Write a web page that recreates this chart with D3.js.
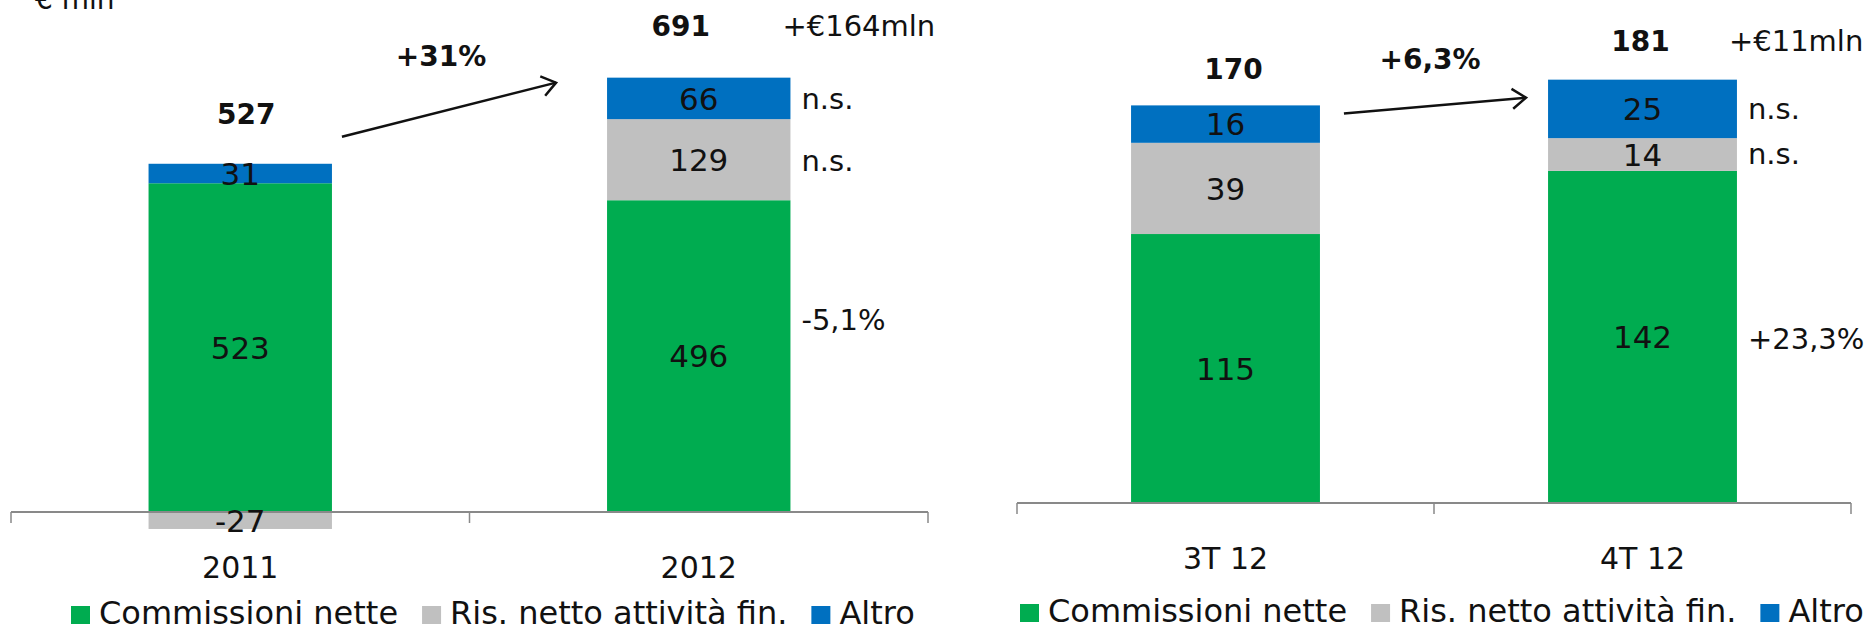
<!DOCTYPE html>
<html>
<head>
<meta charset="utf-8">
<script src="https://cdn.jsdelivr.net/npm/d3@7"></script>
<style>
  body { margin: 0; background: #fff; }
  svg { display: block; font-family: "DejaVu Sans", sans-serif; }
</style>
</head>
<body>
<svg id="chart" width="1876" height="632"></svg>
<script>
// data
const seriesNames = ['Commissioni nette', 'Ris. netto attività fin.', 'Altro'];
const seriesColors = ['#00ac50', '#c0c0c0', '#0070c0'];

const yearCats = ['2011', '2012'];
const yearCommissioni = [523, 496];
const yearRisultato = [-27, 129];
const yearAltro = [31, 66];
const yearTotals = ['527', '691'];

const quarterCats = ['3T 12', '4T 12'];
const quarterCommissioni = [115, 142];
const quarterRisultato = [39, 14];
const quarterAltro = [16, 25];
const quarterTotals = ['170', '181'];

const yearNotes = ['n.s.', 'n.s.', '-5,1%'];      // altro, risultato, commissioni
const quarterNotes = ['n.s.', 'n.s.', '+23,3%'];

const svg = d3.select('#chart');

// stacks positive up, negative down
const stackIt = (cats, series) => {
    return cats.map((c, i) => {
        let pos = 0, neg = 0;
        return series.map((s, k) => {
            const v = s[i];
            let y0, y1;
            if (v >= 0) { y0 = pos; y1 = pos + v; pos = y1 }
            else { y0 = neg; y1 = neg + v; neg = y1 }
            return { cat: c, key: k, value: v, y0: y0, y1: y1 };
        });
    });
};

const drawPanel = (opts) => {
    const g = svg.append('g');
    const x = d3.scaleBand().domain(opts.cats).range(opts.xRange)
        .paddingInner(opts.padIn).paddingOuter(opts.padIn / 2);
    const y = d3.scaleLinear().domain(opts.yDomain).range(opts.yRange);

    const stacks = stackIt(opts.cats, opts.series);

    stacks.forEach(stack => {
        g.selectAll(null)
            .data(stack)
            .enter()
            .append('rect')
            .attr('x', d => x(d.cat))
            .attr('width', x.bandwidth())
            .attr('y', d => y(Math.max(d.y0, d.y1)))
            .attr('height', d => Math.abs(y(d.y0) - y(d.y1)))
            .attr('fill', d => seriesColors[d.key]);
    });

    // axis line + ticks
    const y0 = y(0);
    g.append('line')
        .attr('x1', opts.xRange[0]).attr('x2', opts.xRange[1])
        .attr('y1', y0).attr('y2', y0)
        .attr('stroke', '#898989').attr('stroke-width', 2);
    const tickXs = [opts.xRange[0], (x(opts.cats[0]) + x(opts.cats[1]) + x.bandwidth()) / 2, opts.xRange[1]];
    g.selectAll(null)
        .data(tickXs)
        .enter()
        .append('line')
        .attr('x1', d => d).attr('x2', d => d)
        .attr('y1', y0).attr('y2', y0 + 11)
        .attr('stroke', '#898989').attr('stroke-width', 1.5);

    // segment labels
    stacks.forEach(stack => {
        g.selectAll(null)
            .data(stack)
            .enter()
            .append('text')
            .attr('x', d => x(d.cat) + x.bandwidth() / 2)
            .attr('y', d => y((d.y0 + d.y1) / 2))
            .attr('dy', '0.36em')
            .attr('text-anchor', 'middle')
            .attr('font-size', 31)
            .attr('fill', '#111')
            .text(d => d.value);
    });

    // category labels
    g.selectAll(null)
        .data(opts.cats)
        .enter()
        .append('text')
        .attr('x', d => x(d) + x.bandwidth() / 2)
        .attr('y', y0 + opts.catOffset)
        .attr('text-anchor', 'middle')
        .attr('font-size', 30)
        .attr('fill', '#111')
        .text(d => d);

    // totals
    stacks.forEach((stack, i) => {
        const top = d3.max(stack, d => Math.max(d.y0, d.y1));
        g.append('text')
            .attr('x', x(opts.cats[i]) + x.bandwidth() / 2 + opts.totalDx[i])
            .attr('y', y(top) - opts.totalGap[i])
            .attr('text-anchor', 'middle')
            .attr('font-size', 28)
            .attr('font-weight', 'bold')
            .attr('fill', '#111')
            .text(opts.totals[i]);
    });

    // right-hand notes next to last bar
    const last = stacks[1];
    const noteX = x(opts.cats[1]) + x.bandwidth() + 11;
    const noteOrder = [2, 1, 0];
    noteOrder.forEach((k, j) => {
        const seg = last[k];
        const mid = y((seg.y0 + seg.y1) / 2);
        g.append('text')
            .attr('x', noteX)
            .attr('y', mid + opts.noteDy[j])
            .attr('font-size', 29)
            .attr('fill', '#111')
            .text(opts.notes[j]);
    });

    // delta in mln
    const lastTop = d3.max(last, d => Math.max(d.y0, d.y1));
    g.append('text')
        .attr('x', x(opts.cats[1]) + x.bandwidth() - 8)
        .attr('y', y(lastTop) - opts.totalGap[1])
        .attr('font-size', 29)
        .attr('fill', '#111')
        .text(opts.delta);

    // arrow
    const firstTop = d3.max(stacks[0], d => Math.max(d.y0, d.y1));
    const ax0 = x(opts.cats[0]) + x.bandwidth() + opts.arrow[0];
    const ay0 = y(firstTop) + opts.arrow[1];
    const ax1 = x(opts.cats[1]) + opts.arrow[2];
    const ay1 = y(lastTop) + opts.arrow[3];
    g.append('line')
        .attr('x1', ax0).attr('y1', ay0).attr('x2', ax1).attr('y2', ay1)
        .attr('stroke', '#111').attr('stroke-width', 2.5);
    const ang = Math.atan2(ay1 - ay0, ax1 - ax0);
    const head = 17, spread = Math.PI / 5;
    g.append('path')
        .attr('d', d3.line()([
            [ax1 - head * Math.cos(ang - spread), ay1 - head * Math.sin(ang - spread)],
            [ax1, ay1],
            [ax1 - head * Math.cos(ang + spread), ay1 - head * Math.sin(ang + spread)]
        ]))
        .attr('fill', 'none').attr('stroke', '#111').attr('stroke-width', 2.5);

    g.append('text')
        .attr('x', (ax0 + ax1) / 2 + opts.pctDx)
        .attr('y', Math.min(ay0, ay1) + opts.pctDy)
        .attr('text-anchor', 'middle')
        .attr('font-size', 28)
        .attr('font-weight', 'bold')
        .attr('fill', '#111')
        .text(opts.pct);

    // legend
    let lx = opts.legendX;
    seriesNames.forEach((name, k) => {
        g.append('rect')
            .attr('x', lx).attr('y', opts.legendY - 18)
            .attr('width', 19).attr('height', 18)
            .attr('fill', seriesColors[k]);
        const t = g.append('text')
            .attr('x', lx + 28).attr('y', opts.legendY)
            .attr('font-size', 32)
            .attr('fill', '#111')
            .text(name);
        lx += 28 + t.node().getComputedTextLength() + 24;
    });
};

drawPanel({
    cats: yearCats,
    series: [yearCommissioni, yearRisultato, yearAltro],
    totals: yearTotals,
    notes: yearNotes,
    delta: '+€164mln',
    pct: '+31%',
    xRange: [11, 928],
    padIn: 0.6,
    yDomain: [0, 700],
    yRange: [512, 72],
    catOffset: 66,
    totalDx: [6, -18],
    totalGap: [40, 42],
    noteDy: [11, 11, -26],
    arrow: [10, -27, -51, 5],
    pctDx: -8, pctDy: -17,
    legendX: 71, legendY: 624
});

drawPanel({
    cats: quarterCats,
    series: [quarterCommissioni, quarterRisultato, quarterAltro],
    totals: quarterTotals,
    notes: quarterNotes,
    delta: '+€11mln',
    pct: '+6,3%',
    xRange: [1017, 1851],
    padIn: 0.547,
    yDomain: [0, 180],
    yRange: [503, 82],
    catOffset: 66,
    totalDx: [8, -2],
    totalGap: [26, 29],
    noteDy: [10, 9, 12],
    arrow: [24, 8, -22, 18],
    pctDx: -5, pctDy: -29,
    legendX: 1020, legendY: 622
});

// unit label (partly cut at top, as in the source slide)
svg.append('text')
    .attr('x', 35).attr('y', 9)
    .attr('font-size', 28)
    .attr('fill', '#111')
    .text('€ mln');
</script>
</body>
</html>
